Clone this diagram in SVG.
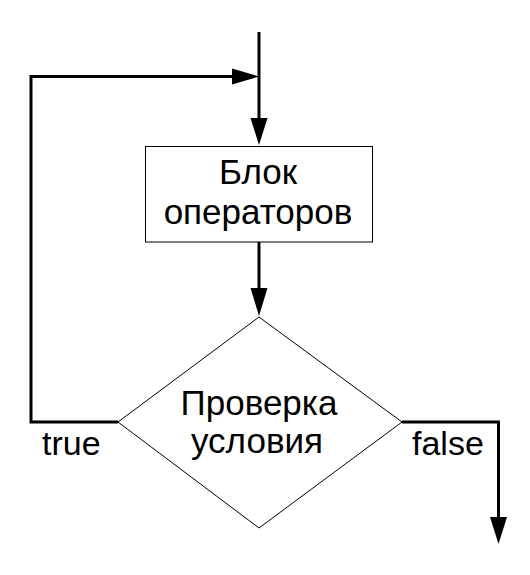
<svg xmlns="http://www.w3.org/2000/svg" width="530" height="575" viewBox="0 0 530 575">
<defs>
<style>
.conn{fill:none;stroke:#000;stroke-width:3}
.head{fill:#000}
.shape{fill:#fff;stroke:#000;stroke-width:1}
.t{font-family:"Liberation Sans",Arial,sans-serif;font-size:35px;fill:#000;text-anchor:middle}
.lbl{font-family:"Liberation Sans",Arial,sans-serif;font-size:34px;fill:#000}
</style>
</defs>
<g id="connectors">
<path class="conn" d="M259,32 V120"/>
<polygon class="head" points="250.5,118 267.5,118 259,145"/>
<path class="conn" d="M259,242 V291"/>
<polygon class="head" points="250.5,288 267.5,288 259,316"/>
<path class="conn" d="M118,422 H31 V76.5 H235"/>
<polygon class="head" points="232,68.5 232,84.5 259,76.5"/>
<path class="conn" d="M402,422 H498.5 V520"/>
<polygon class="head" points="490,517 507,517 498.5,544"/>
</g>
<g id="block">
<rect class="shape" x="145.5" y="146.5" width="227" height="95.5"/>
<text class="t" x="258" y="184">Блок</text>
<text class="t" x="258" y="223.5">операторов</text>
</g>
<g id="condition">
<polygon class="shape" points="259,317 402,422 259,528 118,422"/>
<text class="t" x="259" y="415">Проверка</text>
<text class="t" x="257" y="453">условия</text>
</g>
<g id="labels">
<text class="lbl" x="42" y="455">true</text>
<text class="lbl" x="412" y="455">false</text>
</g>
</svg>
